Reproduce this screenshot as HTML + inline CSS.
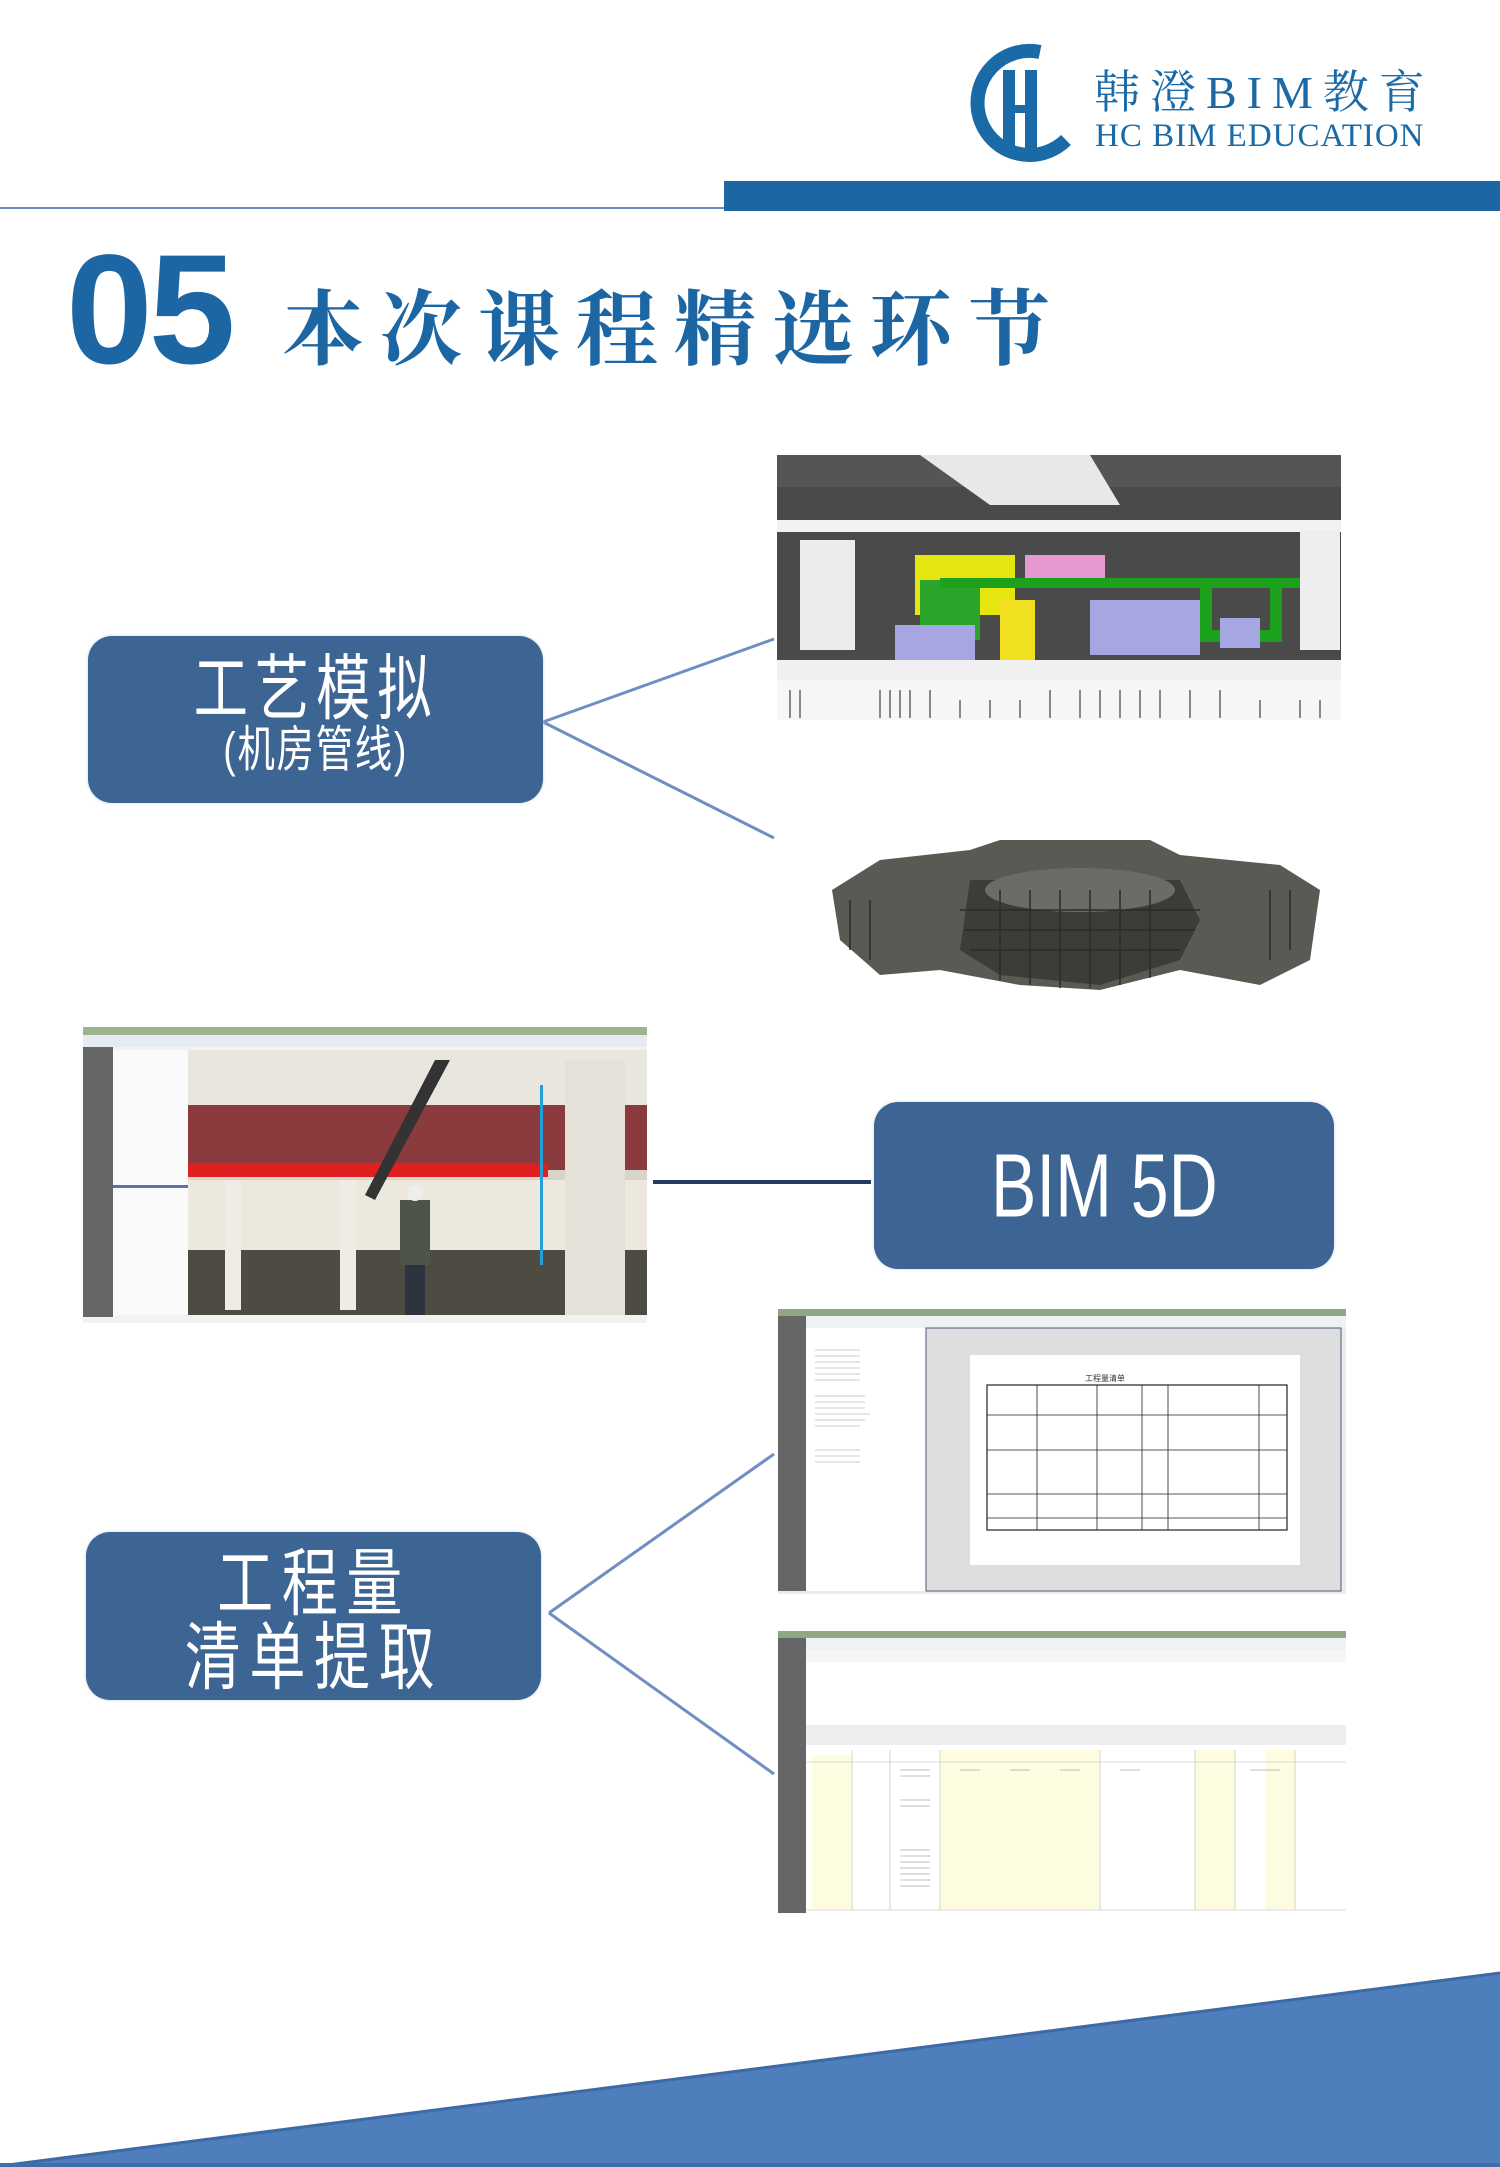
<!DOCTYPE html>
<html><head><meta charset="utf-8"><style>
body{margin:0;width:1500px;height:2167px;position:relative;background:#fff;overflow:hidden;font-family:"Liberation Sans","Noto Sans CJK SC",sans-serif}
.box{position:absolute;background:#3d6594;border-radius:24px;color:#fff;text-align:center;box-shadow:0 0 3px #c8d3e0}
.t{display:inline-block;transform:scale(0.85,1.12)}
</style></head><body>
<svg width="1500" height="2167" style="position:absolute;left:0;top:0">
<path d="M1040 52 A52 52 0 1 0 1066 140" fill="none" stroke="#1a6aa8" stroke-width="14"/>
<rect x="1003" y="70" width="12" height="80" fill="#1a6aa8"/>
<rect x="1025" y="70" width="12" height="80" fill="#1a6aa8"/>
<rect x="1003" y="105" width="34" height="8" fill="#1a6aa8"/>
<line x1="0" y1="208" x2="725" y2="208" stroke="#6b8cbc" stroke-width="2"/>
<rect x="724" y="181" width="776" height="30" fill="#1c66a4"/>
<g stroke="#6f8ec3" stroke-width="3" fill="none">
<path d="M543 722 L774 639 M543 722 L774 838"/>
<path d="M549 1613 L774 1454 M549 1613 L774 1774"/>
</g>
<line x1="653" y1="1182" x2="871" y2="1182" stroke="#1f3b5e" stroke-width="4"/>
<g>
<rect x="777" y="455" width="564" height="225" fill="#4a4a4a"/>
<rect x="777" y="455" width="564" height="32" fill="#555"/>
<polygon points="920,455 1090,455 1120,505 990,505" fill="#e8e8e8"/>
<rect x="777" y="520" width="564" height="12" fill="#f2f2f2"/>
<rect x="800" y="540" width="55" height="110" fill="#ececec"/>
<rect x="777" y="660" width="564" height="20" fill="#f0f0f0"/>
<rect x="915" y="555" width="100" height="60" fill="#e5e510"/>
<rect x="920" y="580" width="60" height="60" fill="#2aa52a"/>
<rect x="1025" y="555" width="80" height="25" fill="#e49ad0"/>
<rect x="940" y="578" width="400" height="10" fill="#1ca11c"/>
<rect x="1000" y="600" width="35" height="60" fill="#f0e020"/>
<rect x="1090" y="600" width="110" height="55" fill="#a8a6e2"/>
<rect x="895" y="625" width="80" height="35" fill="#a8a6e2"/>
<rect x="1200" y="585" width="12" height="55" fill="#1ca11c"/>
<rect x="1270" y="585" width="12" height="55" fill="#1ca11c"/>
<rect x="1200" y="630" width="82" height="12" fill="#1ca11c"/>
<rect x="1220" y="618" width="40" height="30" fill="#a8a6e2"/>
<rect x="1300" y="530" width="40" height="120" fill="#eee"/>
<rect x="777" y="680" width="564" height="40" fill="#f6f6f6"/>
<g stroke="#888" stroke-width="2">
<path d="M790 690V718M800 690V718M880 690V718M890 690V718M900 690V718M910 690V718M930 690V718M960 700V718M990 700V718M1020 700V718M1050 690V718M1080 690V718M1100 690V718M1120 690V718M1140 690V718M1160 690V718M1190 690V718M1220 690V718M1260 700V718M1300 700V718M1320 700V718"/>
</g>
</g>
<g>
<polygon points="832,890 880,860 970,850 1000,840 1150,840 1180,855 1280,865 1320,890 1310,960 1260,985 1180,970 1100,990 1020,985 940,970 880,975 840,940" fill="#5a5a54"/>
<polygon points="970,880 1180,880 1200,920 1180,960 1100,985 1000,975 960,950" fill="#3c3c38"/>
<ellipse cx="1080" cy="890" rx="95" ry="22" fill="#6c6c66"/>
<g stroke="#2b2b28" stroke-width="1.5"><path d="M960 910H1200M965 930H1195M970 950H1180M850 900V950M870 900V960M1270 890V960M1290 890V950M1000 890V980M1030 890V985M1060 890V988M1090 890V988M1120 890V985M1150 890V978"/></g>
</g>
<g>
<rect x="83" y="1027" width="564" height="296" fill="#f2f2f2"/>
<rect x="83" y="1027" width="564" height="8" fill="#9cb48c"/>
<rect x="83" y="1035" width="564" height="12" fill="#e6ebf2"/>
<rect x="83" y="1047" width="30" height="270" fill="#666"/>
<rect x="113" y="1050" width="75" height="265" fill="#fafafa"/>
<rect x="113" y="1185" width="75" height="3" fill="#5874a8"/>
<rect x="188" y="1050" width="459" height="265" fill="#d9d4c8"/>
<rect x="188" y="1050" width="459" height="55" fill="#e9e6df"/>
<rect x="188" y="1105" width="459" height="65" fill="#8b3a3e"/>
<rect x="188" y="1163" width="360" height="14" fill="#e02020"/>
<rect x="188" y="1180" width="459" height="70" fill="#ede8dd"/>
<rect x="188" y="1250" width="459" height="65" fill="#4e4b42"/>
<rect x="225" y="1180" width="16" height="130" fill="#f0ece4"/>
<rect x="340" y="1180" width="16" height="130" fill="#f0ece4"/>
<rect x="565" y="1060" width="60" height="255" fill="#e5e1d8"/>
<polygon points="435,1060 450,1060 375,1200 365,1195" fill="#333"/>
<rect x="400" y="1200" width="30" height="65" fill="#4c5548"/>
<rect x="405" y="1265" width="20" height="50" fill="#2c3442"/>
<circle cx="415" cy="1193" r="8" fill="#eee"/>
<rect x="540" y="1085" width="3" height="180" fill="#22a0d8"/>
</g>
<g>
<rect x="778" y="1309" width="568" height="285" fill="#ececec"/>
<rect x="778" y="1309" width="568" height="7" fill="#8fa883"/>
<rect x="778" y="1316" width="568" height="12" fill="#eef1f6"/>
<rect x="778" y="1316" width="28" height="275" fill="#666"/>
<rect x="806" y="1328" width="120" height="263" fill="#fff"/>
<rect x="926" y="1328" width="415" height="263" fill="#dedede" stroke="#4a5a78"/>
<rect x="970" y="1355" width="330" height="210" fill="#fff"/>
<text x="1085" y="1381" font-size="8" fill="#333">工程量清单</text>
<rect x="987" y="1385" width="300" height="145" fill="none" stroke="#222" stroke-width="1.2"/>
<g stroke="#222" stroke-width="0.8"><path d="M987 1415H1287M987 1450H1287M987 1494H1287M987 1518H1287M1037 1385V1530M1097 1385V1530M1142 1385V1530M1168 1385V1530M1259 1385V1530"/></g>
<g stroke="#999" stroke-width="0.6"><path d="M815 1350H860M815 1356H860M815 1362H860M815 1368H860M815 1374H860M815 1380H860M815 1396H865M815 1402H865M815 1408H865M815 1414H870M815 1420H865M815 1426H860M815 1450H860M815 1456H860M815 1462H860"/></g>
</g>
<g>
<rect x="778" y="1631" width="568" height="284" fill="#fff"/>
<rect x="778" y="1631" width="568" height="7" fill="#8fa883"/>
<rect x="778" y="1638" width="568" height="12" fill="#eef1f6"/>
<rect x="778" y="1638" width="28" height="275" fill="#666"/>
<rect x="806" y="1650" width="540" height="12" fill="#f6f6f6"/>
<rect x="806" y="1725" width="540" height="20" fill="#eee"/>
<rect x="812" y="1755" width="40" height="155" fill="#fdfbe0"/>
<rect x="940" y="1750" width="160" height="160" fill="#fdfbe0"/>
<rect x="1195" y="1750" width="40" height="160" fill="#fdfbe0"/>
<rect x="1265" y="1750" width="30" height="160" fill="#fdfbe0"/>
<g stroke="#bbb" stroke-width="0.6"><path d="M806 1762H1346M806 1910H1346M852 1750V1910M890 1750V1910M940 1750V1910M1100 1750V1910M1195 1750V1910M1235 1750V1910M1295 1750V1910"/></g>
<g stroke="#aaa" stroke-width="0.8"><path d="M900 1770H930M900 1776H930M900 1800H930M900 1806H930M900 1850H930M900 1856H930M900 1862H930M900 1868H930M900 1874H930M900 1880H930M900 1886H930M960 1770H980M1010 1770H1030M1060 1770H1080M1120 1770H1140M1250 1770H1280"/></g>
</g>
<polygon points="0,2167 1500,1973 1500,2167" fill="#4e7fbc"/>
<line x1="0" y1="2166" x2="1500" y2="1973" stroke="#3d6aa5" stroke-width="3"/>
<rect x="0" y="2163" width="1500" height="4" fill="#3f6ea8"/>
</svg>
<div style="position:absolute;left:1094px;top:56px;font-family:'Liberation Serif','Noto Serif CJK SC',serif;font-size:46px;color:#1a6aa8;letter-spacing:10px;white-space:nowrap">韩澄BIM教育</div>
<div style="position:absolute;left:1095px;top:118px;font-family:'Liberation Serif',serif;font-size:33px;color:#1a6aa8;white-space:nowrap;letter-spacing:1px">HC BIM EDUCATION</div>
<div style="position:absolute;left:66px;top:232px;font-size:156px;font-weight:bold;color:#1c66a4;line-height:1;letter-spacing:-4px">05</div>
<div style="position:absolute;left:282px;top:283px;font-family:'Noto Serif CJK SC',serif;font-size:82px;font-weight:bold;color:#1c66a4;letter-spacing:16px;white-space:nowrap;line-height:1">本次课程精选环节</div>
<div class="box" style="left:88px;top:636px;width:455px;height:167px">
<div style="font-size:64px;letter-spacing:8px;margin-top:17px;line-height:72px"><span class="t">工艺模拟</span></div>
<div style="font-size:44px;letter-spacing:2px;line-height:52px"><span class="t">(机房管线)</span></div></div>
<div class="box" style="left:874px;top:1102px;width:460px;height:167px;line-height:167px;font-size:80px"><span class="t">BIM 5D</span></div>
<div class="box" style="left:86px;top:1532px;width:455px;height:168px">
<div style="font-size:66px;letter-spacing:10px;margin-top:14px;line-height:74px"><span class="t">工程量</span></div>
<div style="font-size:66px;letter-spacing:10px;line-height:74px"><span class="t">清单提取</span></div></div>
</body></html>
